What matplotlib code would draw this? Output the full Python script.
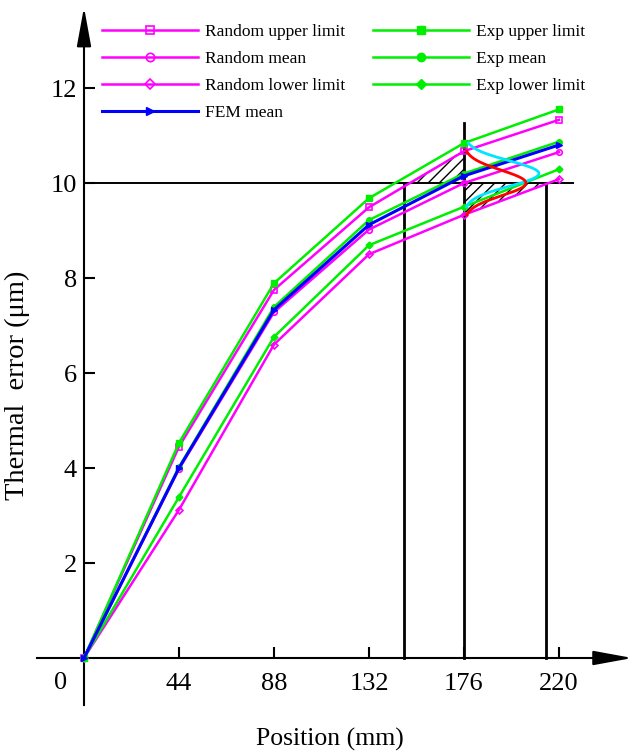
import numpy as np
import matplotlib
matplotlib.use('Agg')
import matplotlib.pyplot as plt

# positions along the guide (mm) and thermal error values (um)
positions = [0, 44, 88, 132, 176, 220]
random_upper = [0, 4.45, 7.75, 9.49, 10.67, 11.33]
random_mean = [0, 3.98, 7.28, 9.02, 10.00, 10.65]
random_lower = [0, 3.12, 6.60, 8.50, 9.33, 10.08]
fem_mean = [0, 4.00, 7.33, 9.12, 10.15, 10.80]
exp_upper = [0, 4.53, 7.89, 9.68, 10.84, 11.55]
exp_mean = [0, 4.02, 7.39, 9.22, 10.20, 10.87]
exp_lower = [0, 3.39, 6.76, 8.69, 9.50, 10.29]

x_ticks = [44, 88, 132, 176, 220]
y_ticks = [2, 4, 6, 8, 10, 12]

threshold = 10.0
guide_x = [148, 176, 214]
guide_top = [10.0, 11.26, 10.0]
upper_hatch = (148, 176)
lower_hatch = (176, 214)

plt.rcParams['font.family'] = ['Liberation Serif', 'DejaVu Serif']
plt.rcParams['hatch.linewidth'] = 1.0

# map data to the 635x754 canvas
x0_px, y0_px = 84, 658
sx, sy = 2.159, 47.5

fig = plt.figure(figsize=(6.35, 7.54), dpi=100)
ax = fig.add_axes([0, 0, 1, 1])
ax.set_xlim(-x0_px / sx, (635 - x0_px) / sx)
ax.set_ylim(-(754 - y0_px) / sy, y0_px / sy)

for s in ['top', 'right']:
    ax.spines[s].set_visible(False)
ax.spines['left'].set_position(('data', 0))
ax.spines['bottom'].set_position(('data', 0))
ax.spines['left'].set_bounds(-0.99, 13.4)
ax.spines['bottom'].set_bounds(-22, 248)
for s in ['left', 'bottom']:
    ax.spines[s].set_linewidth(1.5)

arrow = dict(arrowstyle='-|>,head_length=1.2,head_width=0.22', mutation_scale=20,
             lw=1.5, color='black', shrinkA=0, shrinkB=0)
ax.annotate('', xy=(0, 13.7), xytext=(0, 13.0), arrowprops=arrow)
ax.annotate('', xy=(254, 0), xytext=(240, 0), arrowprops=arrow)

ax.set_xticks(x_ticks)
ax.set_yticks(y_ticks)
ax.tick_params(direction='in', length=8, width=1.5, labelsize=19)
ax.tick_params(axis='x', pad=10.5)
ax.tick_params(axis='y', pad=5)
ax.text(-11, -0.53, '0', fontsize=19, ha='center', va='center')

ax.text(-31, 5.75, 'Thermal  error (\u03bcm)', fontsize=20.5, rotation=90,
        ha='center', va='center')
ax.text(114, -1.72, 'Position (mm)', fontsize=18.5, ha='center', va='center')

# hatched regions
xa = np.linspace(*upper_hatch, 100)
ya = np.interp(xa, positions, random_upper)
ax.fill_between(xa, threshold, ya, where=ya >= threshold, interpolate=True,
                facecolor='none', edgecolor='black', hatch='///', lw=0, zorder=1)
ax.plot(xa[ya >= threshold], ya[ya >= threshold], color='#5a005a', lw=1.0, zorder=2)

xb = np.linspace(*lower_hatch, 100)
yb = np.interp(xb, positions, random_lower)
ax.fill_between(xb, yb, threshold, where=yb <= threshold, interpolate=True,
                facecolor='none', edgecolor='black', hatch='///', lw=0, zorder=1)

# guide lines
ax.plot([0, 226.5], [threshold, threshold], color='black', lw=1.4, zorder=2)
for gx, gt in zip(guide_x, guide_top):
    ax.plot([gx, gx], [0, gt], color='black', lw=2.0, zorder=2)

lw = 1.8
ms = 4
ax.plot(positions, random_upper, color='magenta', lw=lw, marker='s', ms=ms, mfc='none',
        mew=1.2, label='Random upper limit', zorder=3)
ax.plot(positions, random_mean, color='magenta', lw=lw, marker='o', ms=ms, mfc='none',
        mew=1.2, label='Random mean', zorder=3)
ax.plot(positions, random_lower, color='magenta', lw=lw, marker='D', ms=ms - 0.5, mfc='none',
        mew=1.2, label='Random lower limit', zorder=3)
ax.plot(positions, fem_mean, color='blue', lw=lw + 0.4, marker='>', ms=ms,
        label='FEM mean', zorder=4)
ax.plot(positions, exp_upper, color='#00ee00', lw=lw, marker='s', ms=ms,
        label='Exp upper limit', zorder=3)
ax.plot(positions, exp_mean, color='#00ee00', lw=lw, marker='o', ms=ms,
        label='Exp mean', zorder=3)
ax.plot(positions, exp_lower, color='#00ee00', lw=lw, marker='D', ms=ms - 0.5,
        label='Exp lower limit', zorder=3)

# distribution curves at the 176 mm position
i = positions.index(176)
def bell(center, low, high, amp):
    y = np.linspace(low, high, 200)
    sigma = (high - low) / 5
    return positions[i] + amp * np.exp(-(y - center) ** 2 / (2 * sigma ** 2)), y

bx, by = bell(exp_mean[i], exp_lower[i], exp_upper[i], 34.7)
ax.plot(bx, by, color='#00e5ff', lw=2.0, zorder=5)
bx, by = bell(random_mean[i], random_lower[i], random_upper[i], 28.7)
ax.plot(bx, by, color='red', lw=2.0, zorder=5)

ax.legend(loc='upper left', bbox_to_anchor=(0.161, 0.968), ncol=2, frameon=False,
          fontsize=12.5, handlelength=5.5, handletextpad=0.4, columnspacing=1.63,
          labelspacing=0.62, borderpad=0, borderaxespad=0, markerscale=1.5, numpoints=1)

fig.savefig('out.png', dpi=100)
